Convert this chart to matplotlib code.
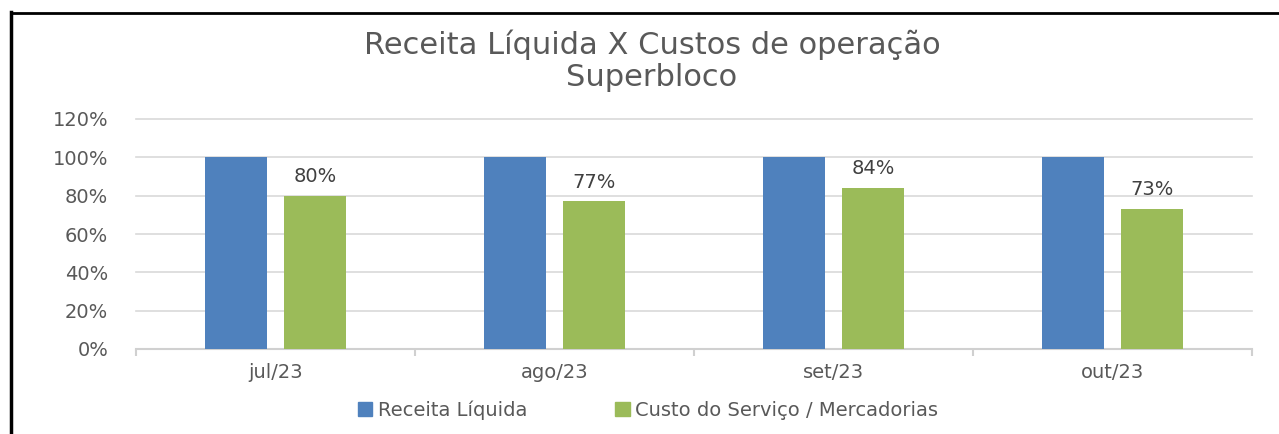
import matplotlib
matplotlib.use("Agg")
import matplotlib.pyplot as plt
from matplotlib.lines import Line2D
from matplotlib.patches import Patch

categories = ["jul/23", "ago/23", "set/23", "out/23"]
receita = [1.00, 1.00, 1.00, 1.00]
custo = [0.80, 0.77, 0.84, 0.73]
custo_labels = ["80%", "77%", "84%", "73%"]
yticks = [0, 0.2, 0.4, 0.6, 0.8, 1.0, 1.2]
ytick_labels = ["0%", "20%", "40%", "60%", "80%", "100%", "120%"]
series_names = ["Receita Líquida", "Custo do Serviço / Mercadorias"]
title = "Receita Líquida X Custos de operação\nSuperbloco"

blue = "#4F81BD"
green = "#9BBB59"
txt = "#595959"
plt.rcParams['font.family'] = ['DejaVu Sans']

W, H = 1279, 434
fig = plt.figure(figsize=(W / 100, H / 100), dpi=100)
ax = fig.add_axes([136 / W, 85 / H, (1252 - 136) / W, (349 - 119) / H])

x = list(range(len(categories)))
bw = 0.222
off = 0.143
ax.bar([i - off for i in x], receita, width=bw, color=blue, zorder=3)
bars = ax.bar([i + off for i in x], custo, width=bw, color=green, zorder=3)
for b, lab in zip(bars, custo_labels):
    ax.annotate(lab, (b.get_x() + b.get_width() / 2, b.get_height()),
                xytext=(0, 7), textcoords="offset points", ha="center", va="bottom",
                fontsize=14, color="#404040")

ax.set_xlim(-0.5, len(categories) - 0.5)
ax.set_ylim(0, 1.2)
ax.set_yticks(yticks)
ax.set_yticklabels(ytick_labels, fontsize=14, color=txt)
ax.tick_params(axis="y", length=0, pad=20)
ax.set_xticks(x)
ax.set_xticklabels(categories, fontsize=14, color=txt)
ax.tick_params(axis="x", length=0, pad=10)
# minor ticks at category boundaries
ax.set_xticks([i - 0.5 for i in range(len(categories) + 1)], minor=True)
ax.tick_params(axis="x", which="minor", length=5, color="#d0d0d0", width=1.5)

ax.grid(axis="y", color="#d9d9d9", linewidth=1.2, zorder=0)
for gl in ax.get_ygridlines():
    gl.set_clip_on(False)
for s in ["top", "right", "left"]:
    ax.spines[s].set_visible(False)
ax.spines["bottom"].set_color("#d0d0d0")
ax.spines["bottom"].set_linewidth(1.5)

fig.text(652 / W, 1 - 61 / H, title, ha="center", va="center", fontsize=22,
         color=txt, linespacing=1.15)

handles = [Patch(color=blue), Patch(color=green)]
fig.legend(handles, series_names, loc="center", bbox_to_anchor=(648 / W, 1 - 410 / H),
           ncol=2, frameon=False, fontsize=14, labelcolor=txt,
           handlelength=0.75, handleheight=0.75, handletextpad=0.3, columnspacing=4.5)

fig.add_artist(Line2D([11 / W, 11 / W], [0, 1 - 12 / H], color="black", linewidth=2.5,
                      transform=fig.transFigure))
fig.add_artist(Line2D([11 / W, 1], [1 - 12.5 / H, 1 - 12.5 / H], color="black", linewidth=2,
                      transform=fig.transFigure))

fig.savefig("out.png", dpi=100)
